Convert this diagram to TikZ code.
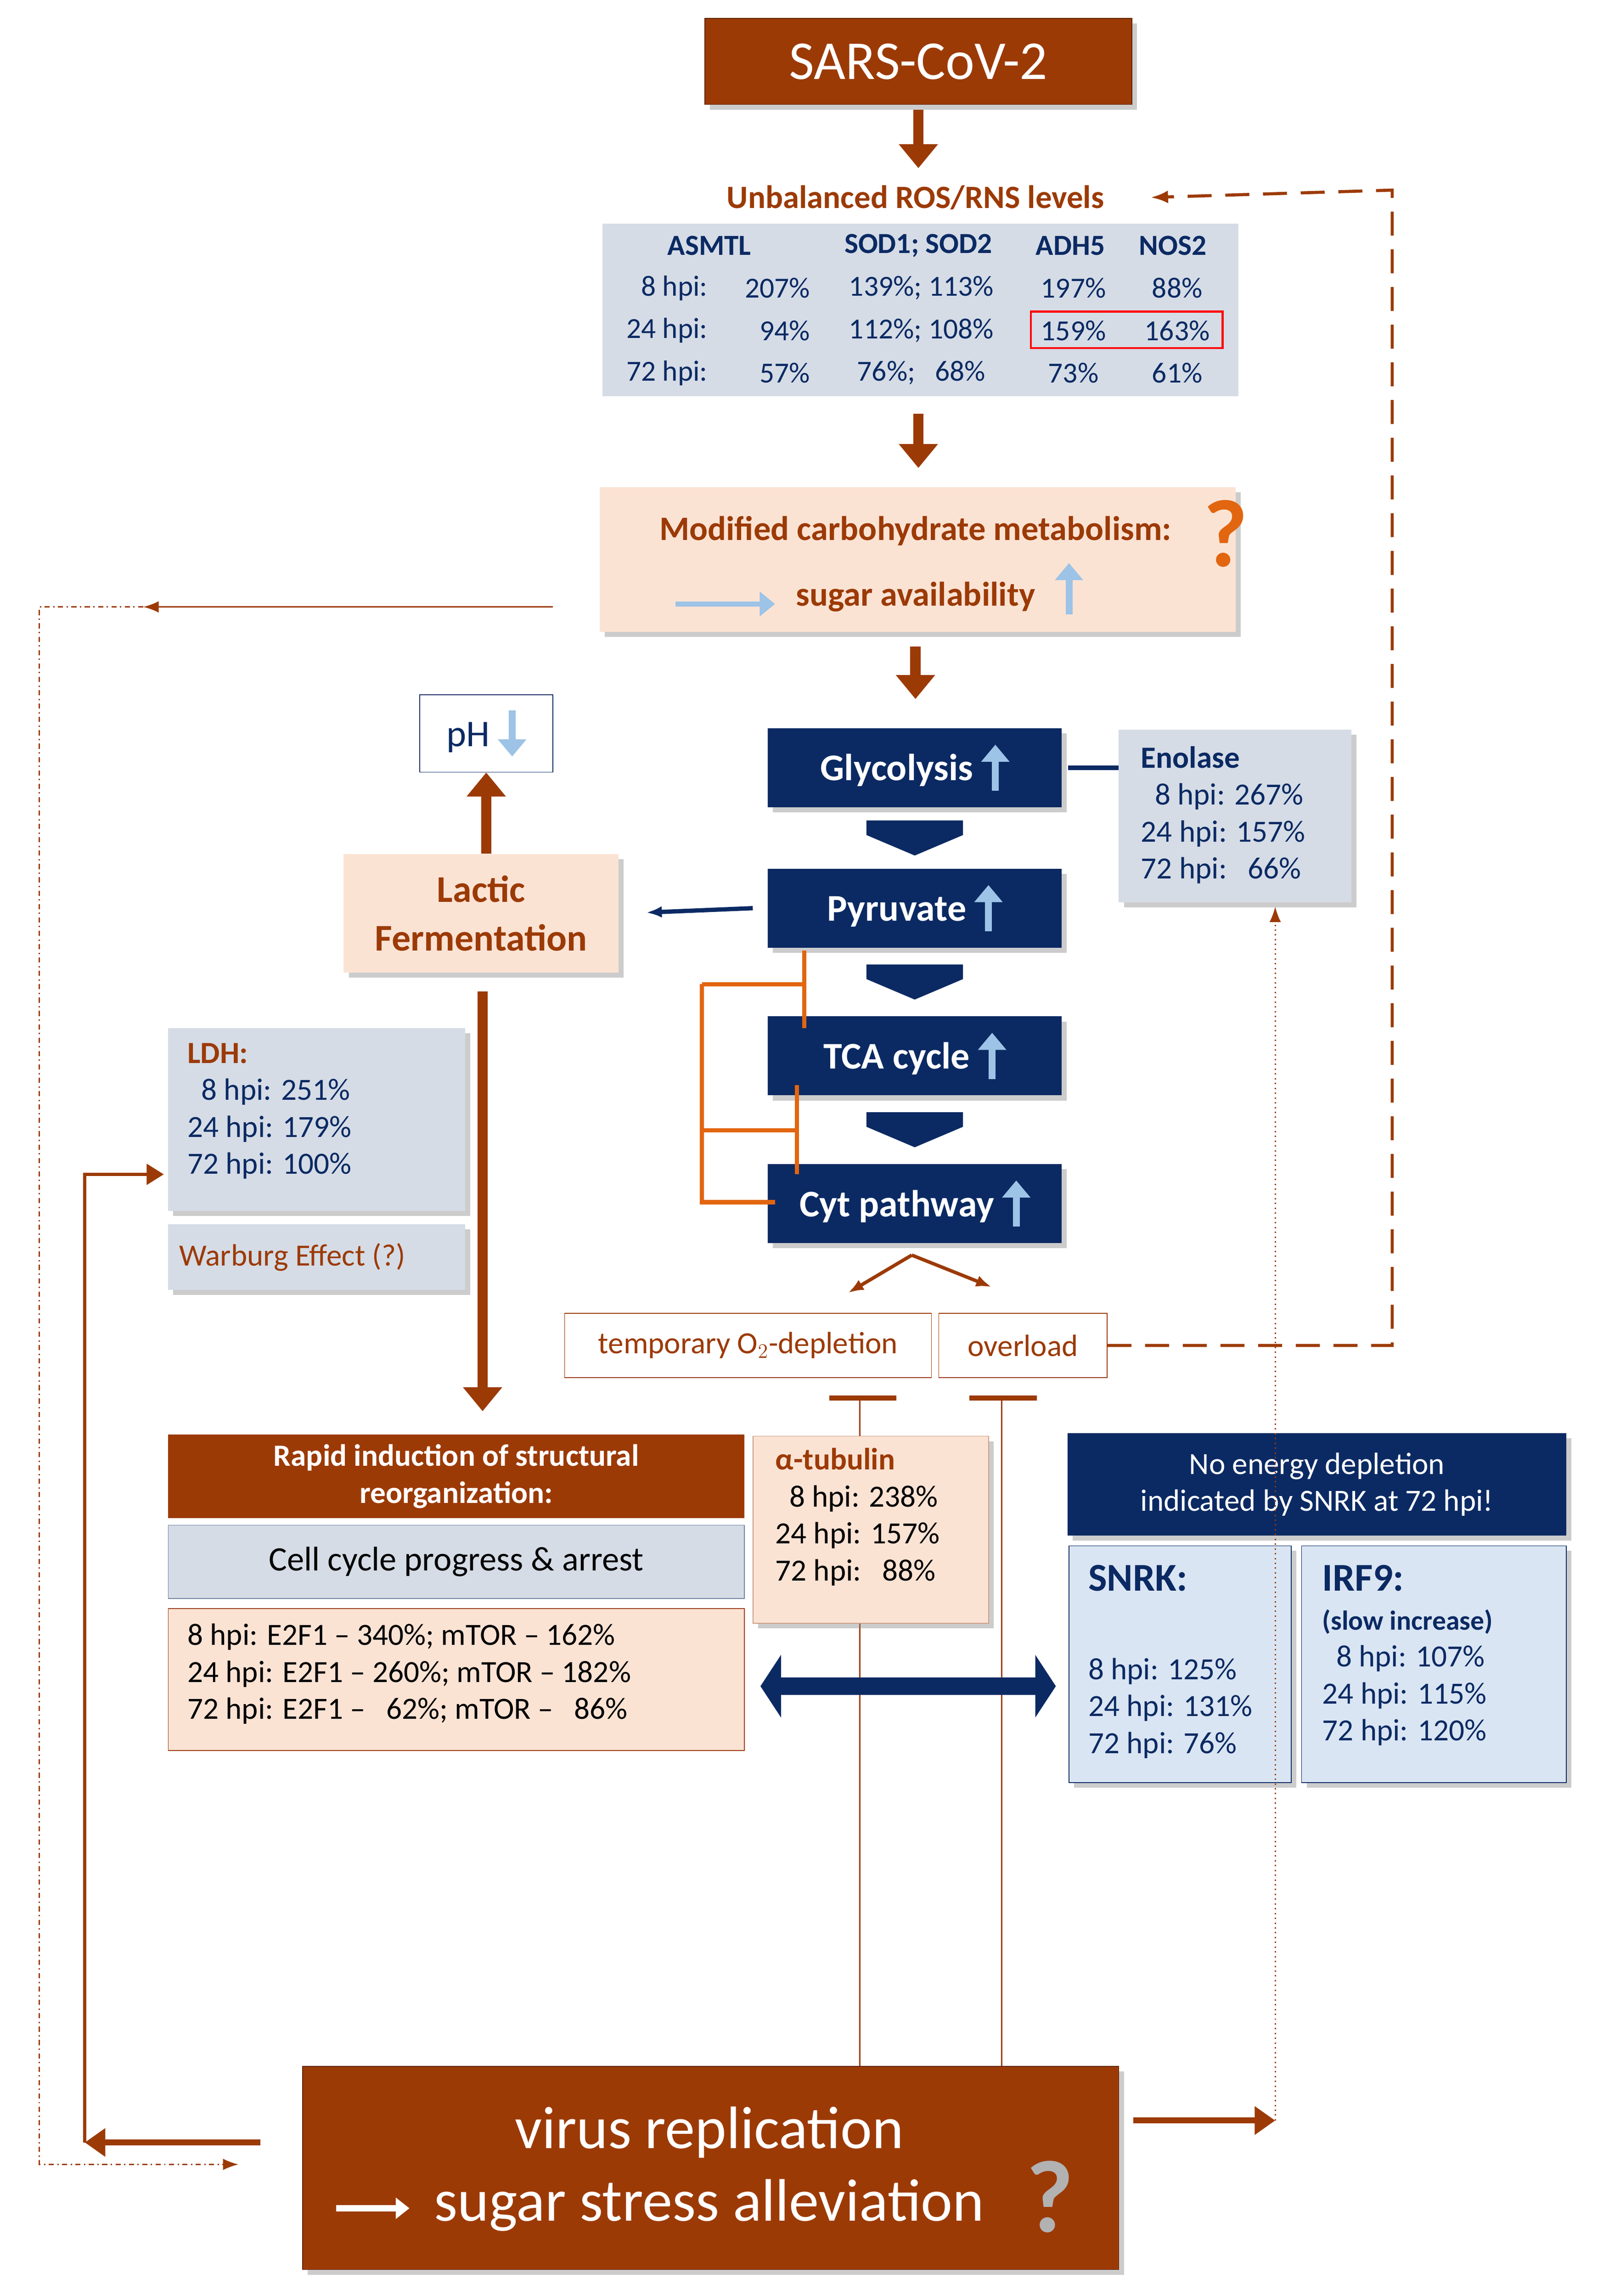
\documentclass[tikz,border=0pt]{standalone}
\usepackage{fontspec}
\setmainfont{Carlito}
\usetikzlibrary{positioning,arrows.meta,shadows,calc}
\definecolor{brn}{HTML}{9C3A06}
\definecolor{nvy}{HTML}{0B2A63}
\definecolor{pch}{HTML}{FBE3D4}
\definecolor{gry}{HTML}{D5DCE6}
\definecolor{lbl}{HTML}{9DC3E6}
\definecolor{lbx}{HTML}{DAE5F3}
\definecolor{org}{HTML}{E2650F}
\newcommand{\fs}[1]{\fontsize{#1pt}{\dimexpr#1pt*6/5\relax}\selectfont}
\newcommand{\upar}{\tikz[baseline=0pt]\draw[lbl,line width=4pt,-{Triangle[length=10pt,width=16pt]}] (0pt,-6pt) -- (0pt,21pt);}
\newcommand{\dnar}{\tikz[baseline=0pt]\draw[lbl,line width=4pt,-{Triangle[length=10pt,width=16pt]}] (0pt,21pt) -- (0pt,-6pt);}
\begin{document}
\begin{tikzpicture}[x={(0.03cm,0)},y={(0,-0.03cm)},font=\fs{18},
  sh/.style={drop shadow={shadow xshift=3pt,shadow yshift=-3pt,opacity=0.4}},
  bx/.style={draw=none,inner sep=0pt,sh},
  pstep/.style={fill=nvy,sh,text=white,font=\fs{22}\bfseries,minimum width=201*0.03cm,minimum height=54*0.03cm},
  bigarr/.style={brn,line width=6pt,-{Triangle[length=14pt,width=22pt]}},
  darr/.style={nvy,line width=10pt,-{Triangle[length=12pt,width=36pt]}},
  thn/.style={brn,line width=0.8pt,-{Latex[length=9pt]}}]
\useasboundingbox (0,0) rectangle (1100,1570);
% top
\node[fill=brn,draw=brn!60!black,sh,minimum width=292*0.03cm,minimum height=59*0.03cm,text=white,font=\fs{32}] (sars) at (628,42) {SARS-CoV-2};
\coordinate (a1) at (628,75); \coordinate (a2) at (628,115);
\draw[bigarr] (a1) -- (a2);
\node[text=brn,font=\fs{19}\bfseries] (ros) at (626,135) {Unbalanced ROS/RNS levels};
\coordinate (r1) at (787,135);
\fill[gry] (412,153) rectangle (847,271);
\begin{scope}[nvy,font=\fs{17}]
\node[font=\fs{17}\bfseries] at (485,168) {ASMTL};
\node[font=\fs{17}\bfseries] at (628,168) {SOD1; SOD2};
\node[font=\fs{17}\bfseries] at (732,168) {ADH5};
\node[font=\fs{17}\bfseries] at (802,168) {NOS2};
\foreach \y/\t/\a/\b/\c/\d in {197/8 hpi:/207\%/139\%; 113\%/197\%/88\%,226/24 hpi:/94\%/112\%; 108\%/159\%/163\%,255/72 hpi:/57\%/76\%;\ \ \ 68\%/73\%/61\%}{
  \node[anchor=east] at (488,\y) {\t};
  \node[anchor=east] at (558,\y) {\a};
  \node at (630,\y) {\b};
  \node at (734,\y) {\c};
  \node at (805,\y) {\d};}
\end{scope}
\draw[red,line width=1.2pt] (705,213) rectangle (836,238);
\coordinate (b1) at (628,283); \coordinate (b2) at (628,320);
\draw[bigarr] (b1) -- (b2);
% carbohydrate
\node[bx,fill=pch,minimum width=435*0.03cm,minimum height=99*0.03cm] (carb) at (627.5,382.5) {};
\node[text=brn,font=\fs{20}\bfseries] at (626,363) {Modified carbohydrate metabolism:};
\node[text=org,font=\fs{56}\bfseries] at (838,365) {?};
\draw[lbl,line width=3pt,-{Triangle[length=9pt,width=14pt]}] (462,413) -- (530,413);
\node[text=brn,font=\fs{20}\bfseries] at (626,408) {sugar availability};
\draw[lbl,line width=4pt,-{Triangle[length=10pt,width=16pt]}] (731,420) -- (731,385);
\coordinate (c1) at (626,442); \coordinate (c2) at (626,478);
\draw[bigarr] (c1) -- (c2);
% pathway
\node[pstep] (gly) at (625.5,525) {Glycolysis \upar};
\node[pstep] (pyr) at (625.5,621) {Pyruvate \upar};
\node[pstep] (tca) at (625.5,722) {TCA cycle \upar};
\node[pstep] (cyt) at (625.5,823) {Cyt pathway \upar};
\foreach \p/\q in {gly/pyr,pyr/tca,tca/cyt}
  \fill[nvy] ($(\p.south)!0.5!(\q.north)$) ++(-33,-12) -- ++(66,0) -- ++(0,10) -- ++(-33,14) -- ++(-33,-14) -- cycle;
\node[bx,fill=gry,minimum width=159*0.03cm,minimum height=118*0.03cm] (eno) at (844.5,558) {};
\node[anchor=north west,align=left,text=nvy,inner sep=0pt] at (780,510) {\textbf{Enolase}\\\ \ 8 hpi: 267\%\\24 hpi: 157\%\\72 hpi:\ \ \ 66\%};
\draw[nvy,line width=2.5pt] (gly.east) ++(4,0) -- (gly.east -| eno.west);
% lactic
\node[draw=nvy,fill=white,minimum width=91*0.03cm,minimum height=53*0.03cm,text=nvy,font=\fs{22}] (ph) at (332.5,501.5) {pH \dnar};
\node[bx,fill=pch,minimum width=188*0.03cm,minimum height=81*0.03cm,text=brn,font=\fs{22}\bfseries,align=center] (lac) at (329,624.5) {Lactic\\[2pt]Fermentation};
\draw[bigarr] (lac.north -| ph) -- (ph.south);
\draw[nvy,line width=2.5pt,-{Latex[length=9pt]}] (pyr.west) ++(-10,0) -- (442,624);
\draw[org,line width=2.5pt] (550,650) -- (550,703) (480,673) -- (550,673) (480,673) -- (480,822) -- (530,822) (480,773) -- (545,773) (545,742) -- (545,803);
\coordinate (l1) at (330,678);
\draw[bigarr] (l1) -- (330,965);
\node[bx,fill=gry,minimum width=203*0.03cm,minimum height=125*0.03cm] (ldh) at (216.5,765.5) {};
\node[anchor=north west,align=left,text=nvy,inner sep=0pt] at (128,713) {\textcolor{brn}{\textbf{LDH:}}\\\ \ 8 hpi: 251\%\\24 hpi: 179\%\\72 hpi: 100\%};
\node[bx,fill=gry,minimum width=203*0.03cm,minimum height=45*0.03cm,text=brn] (war) at (216.5,859.5) {\hspace*{-1cm}Warburg Effect (?)};
% O2 / overload
\node[draw=brn,minimum width=251*0.03cm,minimum height=44*0.03cm,text=brn] (o2) at (511.5,920) {temporary O$_2$-depletion};
\node[draw=brn,minimum width=115*0.03cm,minimum height=44*0.03cm,text=brn] (ovl) at (699.5,920) {overload};
\draw[brn,line width=2pt,-{Latex[length=9pt]}] (cyt.south) ++(-2,8) -- (580,884);
\draw[brn,line width=2pt,-{Latex[length=9pt]}] (cyt.south) ++(-2,8) -- (678,880);
\draw[brn,line width=1.8pt,dash pattern=on 14pt off 8pt,-{Latex[length=10pt]}] (ovl.east) -- (952,920) -- (952,130) -- (r1);
\draw[brn,line width=3pt] (567,956) -- (613,956) (663,956) -- (709,956);
\draw[brn,line width=0.8pt] (588,956) -- (588,1413) (685,956) -- (685,1413);
% lower left
\node[fill=brn,minimum width=394*0.03cm,minimum height=57*0.03cm,text=white,font=\fs{18}\bfseries,align=center,inner sep=0pt] (rap) at (312,1009.5) {Rapid induction of structural\\reorganization:};
\node[draw=nvy!60,fill=gry,minimum width=394*0.03cm,minimum height=50*0.03cm,font=\fs{20}] (cc) at (312,1068) {Cell cycle progress \& arrest};
\node[draw=brn,fill=pch,minimum width=394*0.03cm,minimum height=97*0.03cm] (e2f) at (312,1148.5) {};
\node[anchor=north west,align=left,inner sep=0pt] at (128,1110) {8 hpi: E2F1 -- 340\%; mTOR -- 162\%\\24 hpi: E2F1 -- 260\%; mTOR -- 182\%\\72 hpi: E2F1 --\ \ \ 62\%; mTOR --\ \ \ 86\%};
\node[draw=brn!50,fill=pch,minimum width=161*0.03cm,minimum height=128*0.03cm,sh] (tub) at (595.5,1046) {};
\node[anchor=north west,align=left,inner sep=0pt] at (530,990) {\textcolor{brn}{\textbf{α-tubulin}}\\\ \ 8 hpi: 238\%\\24 hpi: 157\%\\72 hpi:\ \ \ 88\%};
\draw[darr,{Triangle[length=12pt,width=36pt]}-{Triangle[length=12pt,width=36pt]}] (520,1153) -- (722,1153);
% right lower
\node[fill=nvy,minimum width=341*0.03cm,minimum height=70*0.03cm,text=white,align=center,inner sep=0pt,sh] (noe) at (900.5,1015) {No energy depletion\\indicated by SNRK at 72 hpi!};
\node[draw=nvy,fill=lbx,minimum width=152*0.03cm,minimum height=162*0.03cm,sh] (snrk) at (807,1138) {};
\node[anchor=north west,align=left,inner sep=0pt,text=nvy] at (744,1070) {\fs{23}\textbf{SNRK:}\\[30pt]8 hpi: 125\%\\24 hpi: 131\%\\72 hpi: 76\%};
\node[draw=nvy,fill=lbx,minimum width=181*0.03cm,minimum height=162*0.03cm,sh] (irf) at (980.5,1138) {};
\node[anchor=north west,align=left,inner sep=0pt,text=nvy] at (904,1070) {\fs{23}\textbf{IRF9:}\\[1pt]\fs{16}\textbf{(slow increase)}\\\fs{18}\ \ 8 hpi: 107\%\\\fs{18}24 hpi: 115\%\\\fs{18}72 hpi: 120\%};
% bottom
\node[fill=brn,draw=brn!60!black,sh,minimum width=558*0.03cm,minimum height=139*0.03cm] (vir) at (486,1482.5) {};
\node[text=white,font=\fs{35}] at (485,1458) {virus replication};
\node[text=white,font=\fs{35}] at (485,1508) {sugar stress alleviation};
\draw[white,line width=4pt,-{Triangle[length=8pt,width=12pt]}] (230,1510) -- (280,1510);
\node[text=gray!60,font=\fs{60}\bfseries] at (718,1502) {?};
\coordinate (v1) at (775,1450); \coordinate (v2) at (872,1450);
\draw[brn,line width=3.5pt,-{Triangle[length=12pt,width=16pt]}] (v1) -- (v2);
\draw[brn,line width=0.8pt,dotted,-{Latex[length=9pt]}] (v2) -- (872,620);
\coordinate (w1) at (178,1465); \coordinate (w2) at (58,1465);
\draw[brn,line width=3.5pt,-{Triangle[length=12pt,width=16pt]}] (w1) -- (w2);
\coordinate (ldhin) at (112,803);
\draw[brn,line width=1.8pt,-{Triangle[length=10pt,width=12pt]}] (58,1465) -- (58,803) -- (ldhin);
\coordinate (d1) at (378,415); \coordinate (d2) at (98,415);
\draw[thn] (d1) -- (d2);
\draw[brn,line width=0.8pt,dash dot,-{Latex[length=9pt]}] (d2) -- (27,415) -- (27,1480) -- (163,1480);
\end{tikzpicture}
\end{document}
